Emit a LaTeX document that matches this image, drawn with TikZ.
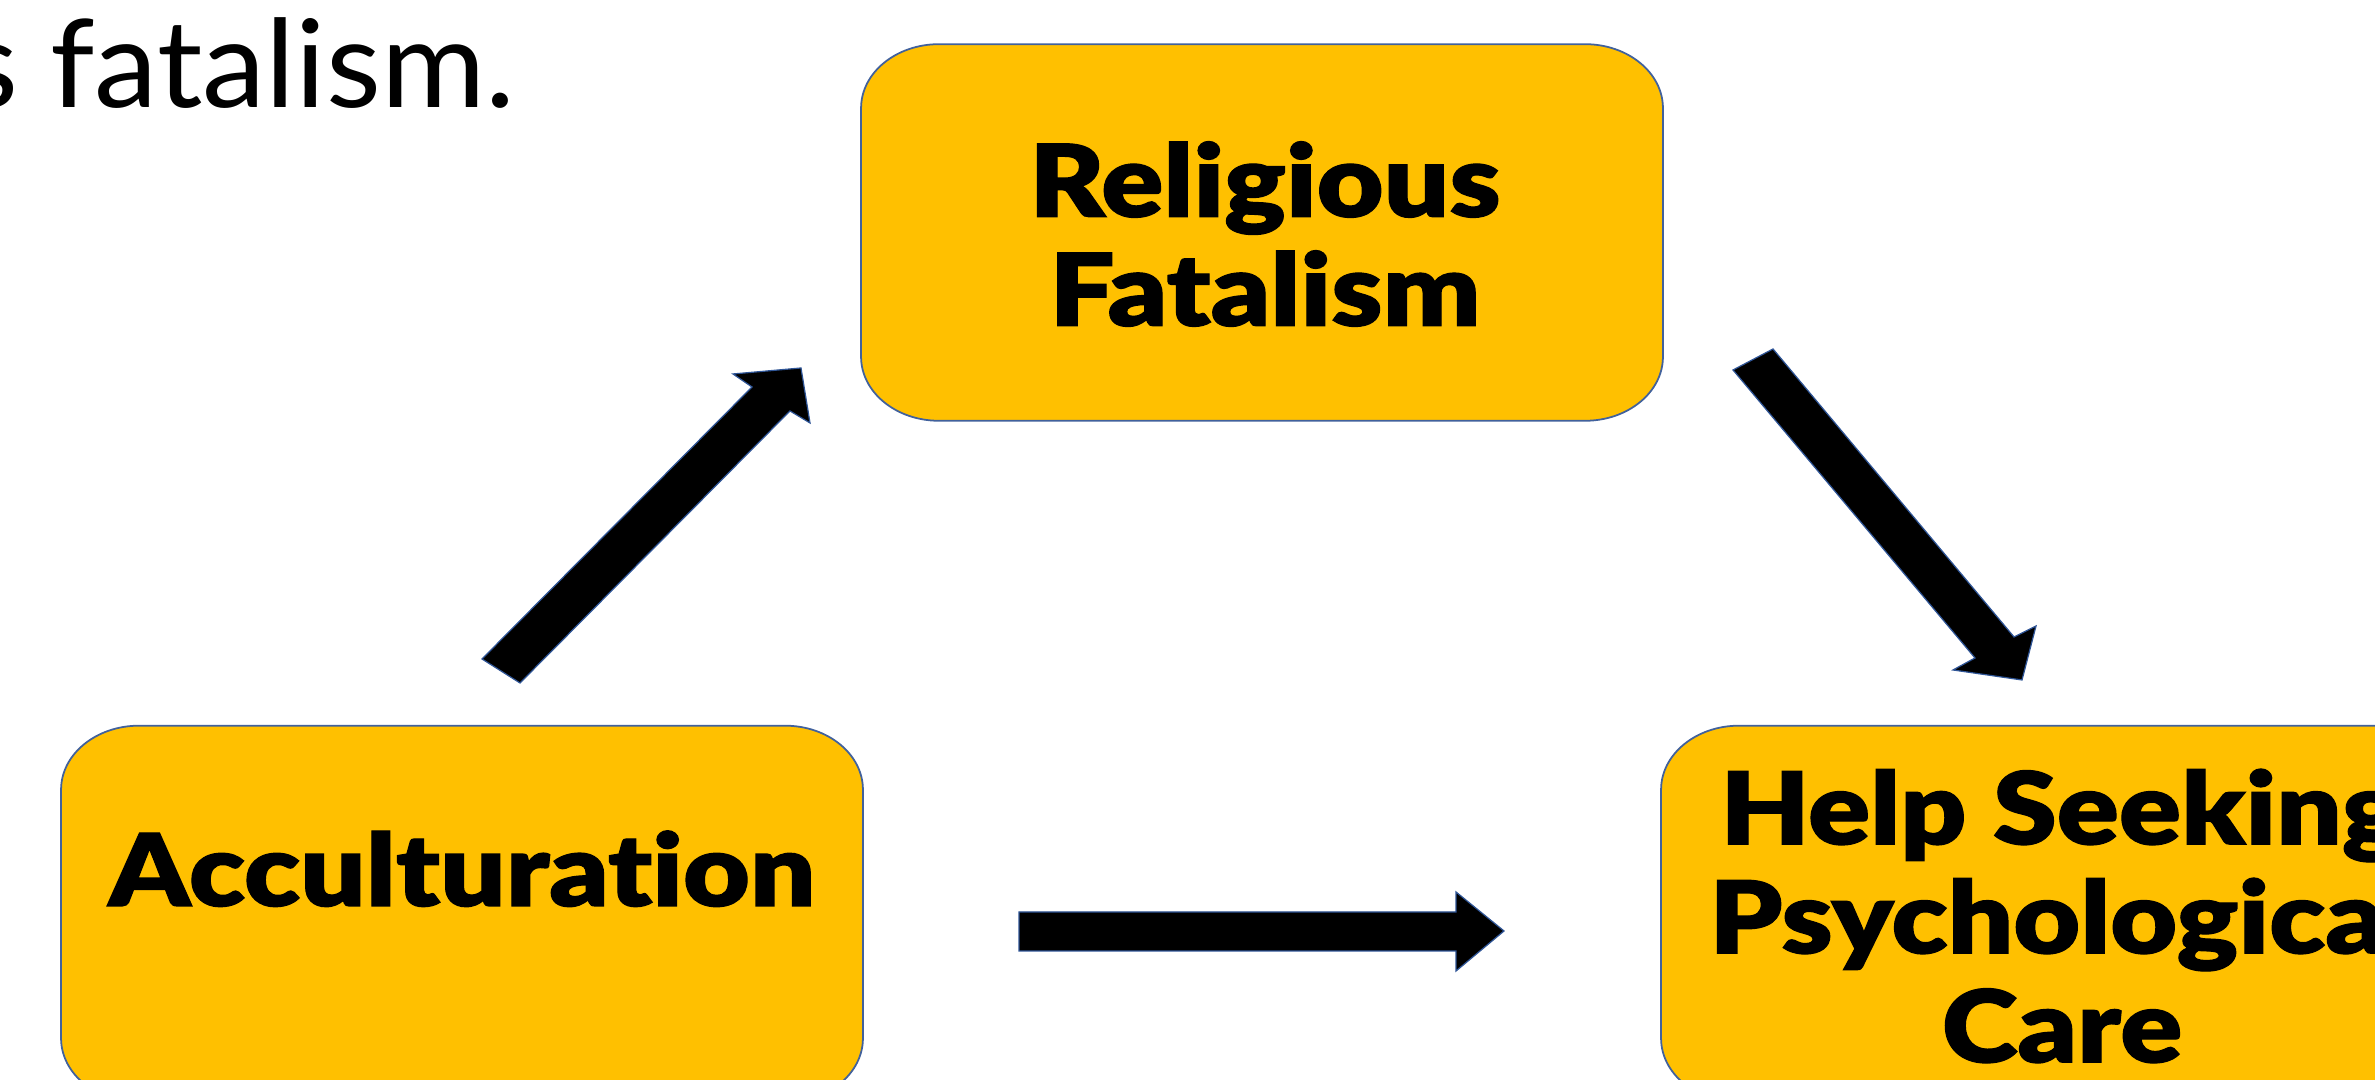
\documentclass[tikz,border=0pt]{standalone}
\usepackage{fontspec}
\setmainfont{Lato}[FakeStretch=1.04]
\newfontfamily\latoblack{Lato Black}[FakeStretch=1.15, FakeBold=1.2, Ligatures=NoCommon]
\usetikzlibrary{calc}
\definecolor{boxfill}{HTML}{FFC000}
\definecolor{boxedge}{HTML}{41619C}
\definecolor{arredge}{HTML}{2F5597}
\tikzset{
  x=0.01cm, y=0.01cm,
  boxtext/.style={inner sep=0pt, align=center, font=\latoblack\fontsize{28.5}{31}\selectfont},
  boxarea/.style={minimum width=8cm, minimum height=3.75cm, inner sep=0pt},
  boxline/.style={draw=boxedge, line width=0.5pt, fill=boxfill},
  blockarrow/.style={fill=black, draw=arredge, line width=0.35pt, line join=miter},
}
\newcommand\roundbox[1]{%
  \path[boxline]
    ($(#1.north west)+(78,0)$) -- ($(#1.north east)+(-78,0)$)
    arc[start angle=90, end angle=0, x radius=78, y radius=64]
    -- ($(#1.south east)+(0,64)$)
    arc[start angle=0, end angle=-90, x radius=78, y radius=64]
    -- ($(#1.south west)+(78,0)$)
    arc[start angle=270, end angle=180, x radius=78, y radius=64]
    -- ($(#1.north west)+(0,-64)$)
    arc[start angle=180, end angle=90, x radius=78, y radius=64]
    -- cycle;}
\begin{document}
\begin{tikzpicture}
\useasboundingbox (0,0) rectangle (2375,1080);
\fill[white] (0,0) rectangle (2375,1080);
% box areas
\node[boxarea] (rf) at (1262,847.5) {};
\node[boxarea] (ac) at (462,166) {};
\node[boxarea] (hs) at (2062,166) {};
\roundbox{rf}
\roundbox{ac}
\roundbox{hs}
\node[boxtext] (rft) at (1265,846) {Religious\\Fatalism};
\node[boxtext, anchor=base] (act) at (462,174) {Acculturation};
\node[boxtext] (hst) at (2062,164) {Help Seeking\\Psychological\\Care};
% top text
\node[inner sep=0pt, anchor=base east, font=\fontsize{34.7}{40}\selectfont] (top) at (516,972) {s fatalism.};
% block arrows
\coordinate (a1) at (482,421);
\path[blockarrow] (a1) -- (752,693) -- (733,706) -- (801,712) -- (810,657) -- (790,669) -- (520,397) -- cycle;
\coordinate (a2) at (1733,710);
\path[blockarrow] (a2) -- (1773,731) -- (2014,443) -- (2036,454) -- (2022,400) -- (1953,410) -- (1975,422) -- cycle;
\coordinate (a3) at (1019,168);
\path[blockarrow] (a3) -- (1456,168) -- (1456,188) -- (1504,149) -- (1456,109) -- (1456,129) -- (1019,129) -- cycle;
\end{tikzpicture}
\end{document}
